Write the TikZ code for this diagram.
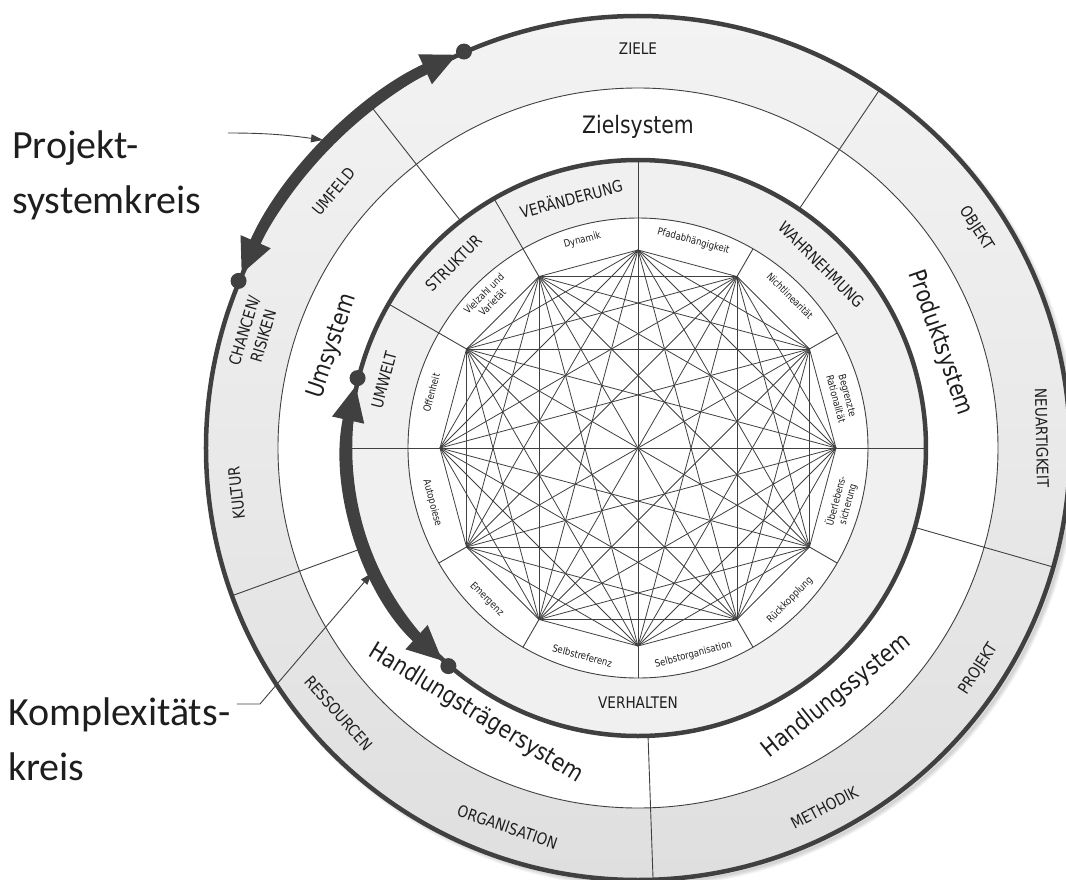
\documentclass[tikz,border=0pt]{standalone}
\usepackage{fontspec}
\setmainfont{DejaVu Sans}[FakeStretch=0.85]
\newfontfamily\calfont{Carlito}
\usetikzlibrary{arrows.meta}
\definecolor{ink}{HTML}{1E1E1E}
\definecolor{linegray}{HTML}{404040}
\definecolor{ringgray}{HTML}{F0F0F0}
\definecolor{outertop}{HTML}{F3F3F3}
\definecolor{outerbot}{HTML}{DFDFDF}
\begin{document}
\begin{tikzpicture}[x=1pt,y=1pt,
  divider/.style={draw=linegray,line width=0.9pt},
  chord/.style={draw=linegray,line width=0.8pt},
  heavy/.style={draw=linegray,line width=4.5pt},
  fatarc/.style={draw=linegray,line width=11pt,
     {Triangle[length=36pt,width=30pt]}-{Triangle[length=36pt,width=30pt]}},
  enddot/.style={circle,fill=linegray,minimum size=16pt,inner sep=0pt},
  annot/.style={draw=linegray,line width=0.9pt,-{Triangle[length=12pt,width=8pt]}},
  outerlbl/.style={text=ink,font=\fontsize{16}{20}\selectfont,align=center,inner sep=0pt},
  midlbl/.style={text=ink,font=\fontsize{16}{19}\selectfont,inner sep=0pt},
  syslbl/.style={text=ink,font=\fontsize{24}{28}\selectfont,inner sep=0pt},
  smalllbl/.style={text=ink,font=\fontsize{10}{12}\selectfont,align=center,inner sep=0pt},
  sidelbl/.style={text=ink,font=\calfont\fontsize{40}{55}\selectfont,align=left,inner sep=0pt,anchor=west},
]
\useasboundingbox (-638,-431) rectangle (428,448);

% soft shadow towards the lower right of the outer disk
\foreach \k in {1,...,6}
  \draw[black,opacity=0.03,line width={\k*1.5pt}] (4,-4) circle (431);

% ring fills
\shade[top color=outertop,bottom color=outerbot] (0,0) circle (432);
\fill[white] (0,0) circle (360);
\fill[ringgray] (0,0) circle (288);
\fill[white] (0,0) circle (230);

% thin ring borders
\draw[divider] (0,0) circle (360);
\draw[divider] (0,0) circle (230);

% five system sectors in the two outer rings
\foreach \a in {56,-16,-88,-160,128}
  \draw[divider] (\a:288) -- (\a:432);

% twelve vertices of the inner polygon
\foreach \i in {0,...,11}
  \coordinate (v\i) at ({90-30*\i}:198);

% dividers of the middle ring and of the small label ring
\foreach \i in {0,3,9,10,11}
  \draw[divider] (v\i) -- ({90-30*\i}:288);
\foreach \i in {1,2,4,5,6,7,8}
  \draw[divider] (v\i) -- ({90-30*\i}:230);

% complete graph on the twelve vertices
\foreach \i in {0,...,10}{
  \pgfmathtruncatemacro{\nxt}{\i+1}
  \foreach \j in {\nxt,...,11}
    \draw[chord] (v\i) -- (v\j);
}

% heavy circles
\draw[heavy] (0,0) circle (288);
\draw[heavy] (0,0) circle (432);

% outer ring labels
\node[outerlbl] (ziele) at (90:399) {ZIELE};
\node[outerlbl,rotate=-57] (objekt) at (33:403) {OBJEKT};
\node[outerlbl,rotate=-88.6] (neuartig) at (1.4:404) {NEUARTIGKEIT};
\node[outerlbl,rotate=57] (projekt) at (-33:406) {PROJEKT};
\node[outerlbl,rotate=27.4] (methodik) at (-62.6:405) {METHODIK};
\node[outerlbl,rotate=-19] (organis) at (-109:401) {ORGANISATION};
\node[outerlbl,rotate=-48.5] (ressourcen) at (-138.5:400) {RESSOURCEN};
\node[outerlbl,rotate=96.4] (kultur) at (-173.6:404) {KULTUR};
\node[outerlbl,rotate=73.4] (chancen) at (163.4:401) {CHANCEN/\\RISIKEN};
\node[outerlbl,rotate=50] (umfeld) at (139.9:398) {UMFELD};

% system labels
\node[syslbl] (zielsys) at (90:321) {Zielsystem};
\node[syslbl,rotate=-70.8] (produktsys) at (19.2:320) {Produktsystem};
\node[syslbl,rotate=38.7] (handlsys) at (-51.3:318) {Handlungssystem};
\node[syslbl,rotate=-31.4] (htsys) at (-121.4:311) {Handlungsträgersystem};
\node[syslbl,rotate=71.6] (umsys) at (161.6:322) {Umsystem};

% middle ring labels
\node[midlbl,rotate=15] (veraend) at (105:259) {VERÄNDERUNG};
\node[midlbl,rotate=-45] (wahrn) at (45:259) {WAHRNEHMUNG};
\node[midlbl,rotate=45] (struktur) at (135:261) {STRUKTUR};
\node[midlbl,rotate=75] (umwelt) at (165:263) {UMWELT};
\node[midlbl] (verhalten) at (-90:255) {VERHALTEN};

% small labels between the polygon and the inner circle
\node[smalllbl,rotate=15] (dyn) at (105:215) {Dynamik};
\node[smalllbl,rotate=-15] (pfad) at (75:214) {Pfadabhängigkeit};
\node[smalllbl,rotate=-45] (nichtlin) at (45:215) {Nichtlinearität};
\node[smalllbl,rotate=-75] (begrenzt) at (14:210) {Begrenzte\\Rationalität};
\node[smalllbl,rotate=75] (ueberleb) at (-15:211) {Überlebens-\\sicherung};
\node[smalllbl,rotate=45] (rueck) at (-45:215) {Rückkopplung};
\node[smalllbl,rotate=15] (selbstorg) at (-75:214) {Selbstorganisation};
\node[smalllbl,rotate=-15] (selbstref) at (-105:215) {Selbstreferenz};
\node[smalllbl,rotate=-45] (emergenz) at (-135:214) {Emergenz};
\node[smalllbl,rotate=-75] (autopoiese) at (-165:213) {Autopoiese};
\node[smalllbl,rotate=75] (offenheit) at (165:214) {Offenheit};
\node[smalllbl,rotate=45] (vielzahl) at (135:212) {Vielzahl und\\Varietät};

% project system circle arrow
\node[enddot] (pa) at (157.3:433) {};
\node[enddot] (pb) at (113.7:433) {};
\coordinate (pstart) at (156.4:433);
\draw[fatarc] (pstart) arc[start angle=156.4,end angle=114.6,radius=433];

% complexity circle arrow
\node[enddot] (ka) at (-131:289) {};
\node[enddot] (kb) at (166:289) {};
\coordinate (kstart) at (-132.4:289);
\draw[fatarc] (kstart) arc[start angle=-132.4,end angle=-192.6,radius=289];

% side captions with pointers
\node[sidelbl] (projlbl) at (-626,273) {Projekt-\\systemkreis};
\coordinate (projfrom) at (-410,315);
\coordinate (projto) at (-315,308);
\draw[annot] (projfrom) to[out=0,in=172] (projto);

\node[sidelbl] (komplbl) at (-630,-291) {Komplexitäts-\\kreis};
\coordinate (komfrom) at (-401,-256);
\coordinate (komknee) at (-378,-256);
\coordinate (komto) at (-266,-125);
\draw[annot] (komfrom) -- (komknee) -- (komto);
\end{tikzpicture}
\end{document}
